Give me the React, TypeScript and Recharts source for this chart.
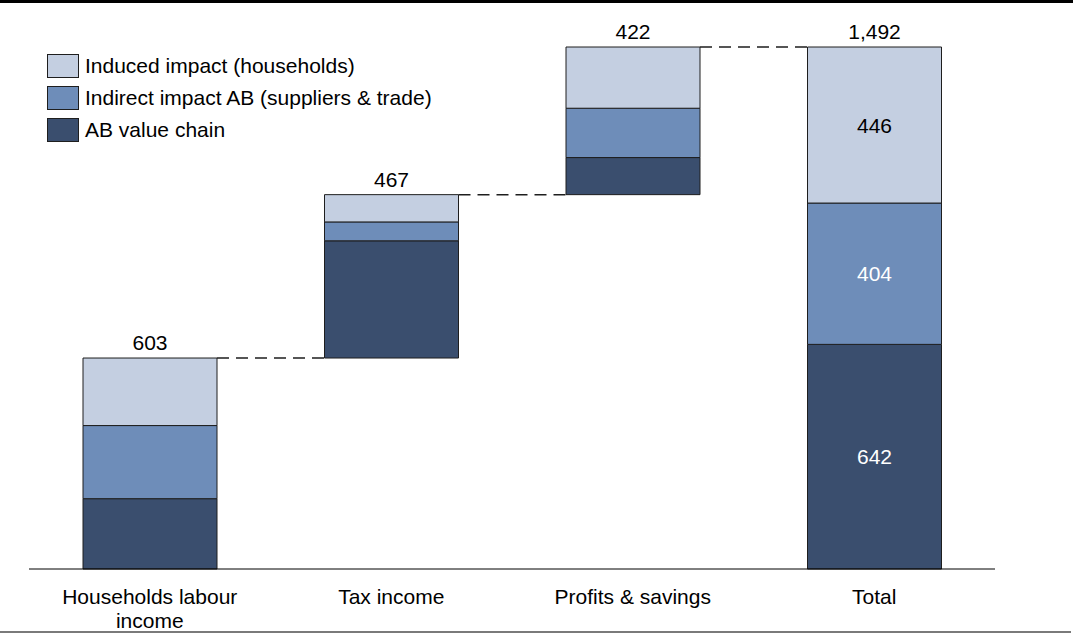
import React from "react";
import {
  BarChart,
  Bar,
  XAxis,
  YAxis,
  Legend,
  LabelList,
  Rectangle
} from "recharts";

// value chain impact, by destination of value added
const categories = ["Households labour income", "Tax income", "Profits & savings", "Total"];
const valueChain = [201, 335, 106, 642];
const indirectImpact = [209, 54, 141, 404];
const inducedImpact = [193, 78, 175, 446];
const isTotal = [false, false, false, true];

const seriesNames = ["AB value chain", "Indirect impact AB (suppliers & trade)", "Induced impact (households)"];
const seriesColors = ["#3A4E6E", "#6E8DB9", "#C4CFE1"];

const WIDTH = 1073;
const HEIGHT = 633;
const MARGIN = { top: 47, right: 78, bottom: 0, left: 29 };
const BAR_SIZE = 134;
const FONT = "'Liberation Sans', Arial, Helvetica, sans-serif";
const FONT_SIZE = 21;
const EDGE = "#1E1E1E";
const TICK_WIDTH = 200;

const totals = categories.map((_, i) => valueChain[i] + indirectImpact[i] + inducedImpact[i]);
let running = 0;
const bases = categories.map((_, i) => {
  if (isTotal[i]) return 0;
  const b = running;
  running += totals[i];
  return b;
});

const data = categories.map((name, i) => ({
  name,
  base: bases[i],
  chain: valueChain[i],
  indirect: indirectImpact[i],
  induced: inducedImpact[i],
  total: totals[i]
}));

const band = (WIDTH - MARGIN.left - MARGIN.right) / categories.length;
const gap = band - BAR_SIZE;

// greedy word wrap, measured with a canvas
let ctx: CanvasRenderingContext2D | null = null;
const wrap = (label: string, maxWidth: number) => {
  if (!ctx) {
    ctx = document.createElement("canvas").getContext("2d");
  }
  if (!ctx) return [label];
  ctx.font = FONT_SIZE + "px " + FONT;
  const lines: string[] = [];
  let line = "";
  label.split(" ").forEach((w) => {
    const test = line ? line + " " + w : w;
    if (line && ctx!.measureText(test).width > maxWidth) {
      lines.push(line);
      line = w;
    } else {
      line = test;
    }
  });
  if (line) lines.push(line);
  return lines;
};

const TopShape = (props: any) => {
  const { x, y, width, height, fill, index } = props;
  return (
    <g>
      <Rectangle x={x} y={y} width={width} height={height} fill={fill} stroke={EDGE} strokeWidth={1} />
      {index < categories.length - 1 && (
        <line
          x1={x + width}
          x2={x + width + gap}
          y1={y}
          y2={y}
          stroke={EDGE}
          strokeWidth={1.5}
          strokeDasharray="12 7"
        />
      )}
    </g>
  );
};

const TotalLabel = (props: any) => {
  const { x, y, width, index } = props;
  return (
    <text
      x={x + width / 2}
      y={y - 8}
      textAnchor="middle"
      fontFamily={FONT}
      fontSize={FONT_SIZE}
      fill="#000"
    >
      {totals[index].toLocaleString("en-US")}
    </text>
  );
};

const innerLabel = (color: string) => (props: any) => {
  const { x, y, width, height, index, value } = props;
  if (!isTotal[index]) return null;
  return (
    <text
      x={x + width / 2}
      y={y + height / 2}
      textAnchor="middle"
      dominantBaseline="central"
      fontFamily={FONT}
      fontSize={FONT_SIZE}
      fill={color}
    >
      {value}
    </text>
  );
};

const CategoryTick = (props: any) => {
  const { x, y, payload } = props;
  const lines = wrap(String(payload.value), TICK_WIDTH);
  return (
    <text
      x={x}
      y={y + 33}
      textAnchor="middle"
      fontFamily={FONT}
      fontSize={FONT_SIZE}
      fill="#000"
    >
      {lines.map((l, i) => (
        <tspan key={i} x={x} dy={i === 0 ? 0 : 24}>
          {l}
        </tspan>
      ))}
    </text>
  );
};

const LegendBox = () => (
  <div style={{ fontFamily: FONT, fontSize: FONT_SIZE, color: "#000" }}>
    {[2, 1, 0].map((k) => (
      <div key={k} style={{ display: "flex", alignItems: "center", height: 32 }}>
        <span
          style={{
            width: 30,
            height: 22,
            background: seriesColors[k],
            border: "1px solid " + EDGE,
            marginRight: 6,
            display: "inline-block"
          }}
        />
        <span>{seriesNames[k]}</span>
      </div>
    ))}
  </div>
);

export default function App() {
  return (
    <div
      style={{
        position: "absolute",
        left: 0,
        top: 0,
        width: WIDTH,
        height: HEIGHT,
        background: "#fff",
        overflow: "hidden"
      }}
    >
      <div style={{ position: "absolute", left: 0, top: 0, width: WIDTH, height: 3, background: "#000" }} />
      <div style={{ position: "absolute", left: 0, top: 631, width: 1071, height: 1.5, background: "#7A7A7A" }} />

      <BarChart width={WIDTH} height={HEIGHT} data={data} margin={MARGIN} barSize={BAR_SIZE}>
        <XAxis
          dataKey="name"
          height={64}
          axisLine={{ stroke: "#000", strokeWidth: 1 }}
          tickLine={false}
          tickSize={0}
          interval={0}
          tick={<CategoryTick />}
        />
        <YAxis hide domain={[0, "dataMax"]} />
        <Legend
          layout="horizontal"
          verticalAlign="middle"
          align="center"
          wrapperStyle={{ left: 47, top: 50, width: "auto" }}
          content={<LegendBox />}
        />
        <Bar dataKey="base" stackId="w" fill="transparent" legendType="none" isAnimationActive={false} />
        <Bar
          dataKey="chain"
          name={seriesNames[0]}
          stackId="w"
          fill={seriesColors[0]}
          stroke={EDGE}
          strokeWidth={1}
          isAnimationActive={false}
        >
          <LabelList dataKey="chain" content={innerLabel("#fff")} />
        </Bar>
        <Bar
          dataKey="indirect"
          name={seriesNames[1]}
          stackId="w"
          fill={seriesColors[1]}
          stroke={EDGE}
          strokeWidth={1}
          isAnimationActive={false}
        >
          <LabelList dataKey="indirect" content={innerLabel("#fff")} />
        </Bar>
        <Bar
          dataKey="induced"
          name={seriesNames[2]}
          stackId="w"
          fill={seriesColors[2]}
          shape={<TopShape />}
          isAnimationActive={false}
        >
          <LabelList dataKey="induced" content={innerLabel("#000")} />
          <LabelList dataKey="total" content={<TotalLabel />} />
        </Bar>
      </BarChart>
    </div>
  );
}
